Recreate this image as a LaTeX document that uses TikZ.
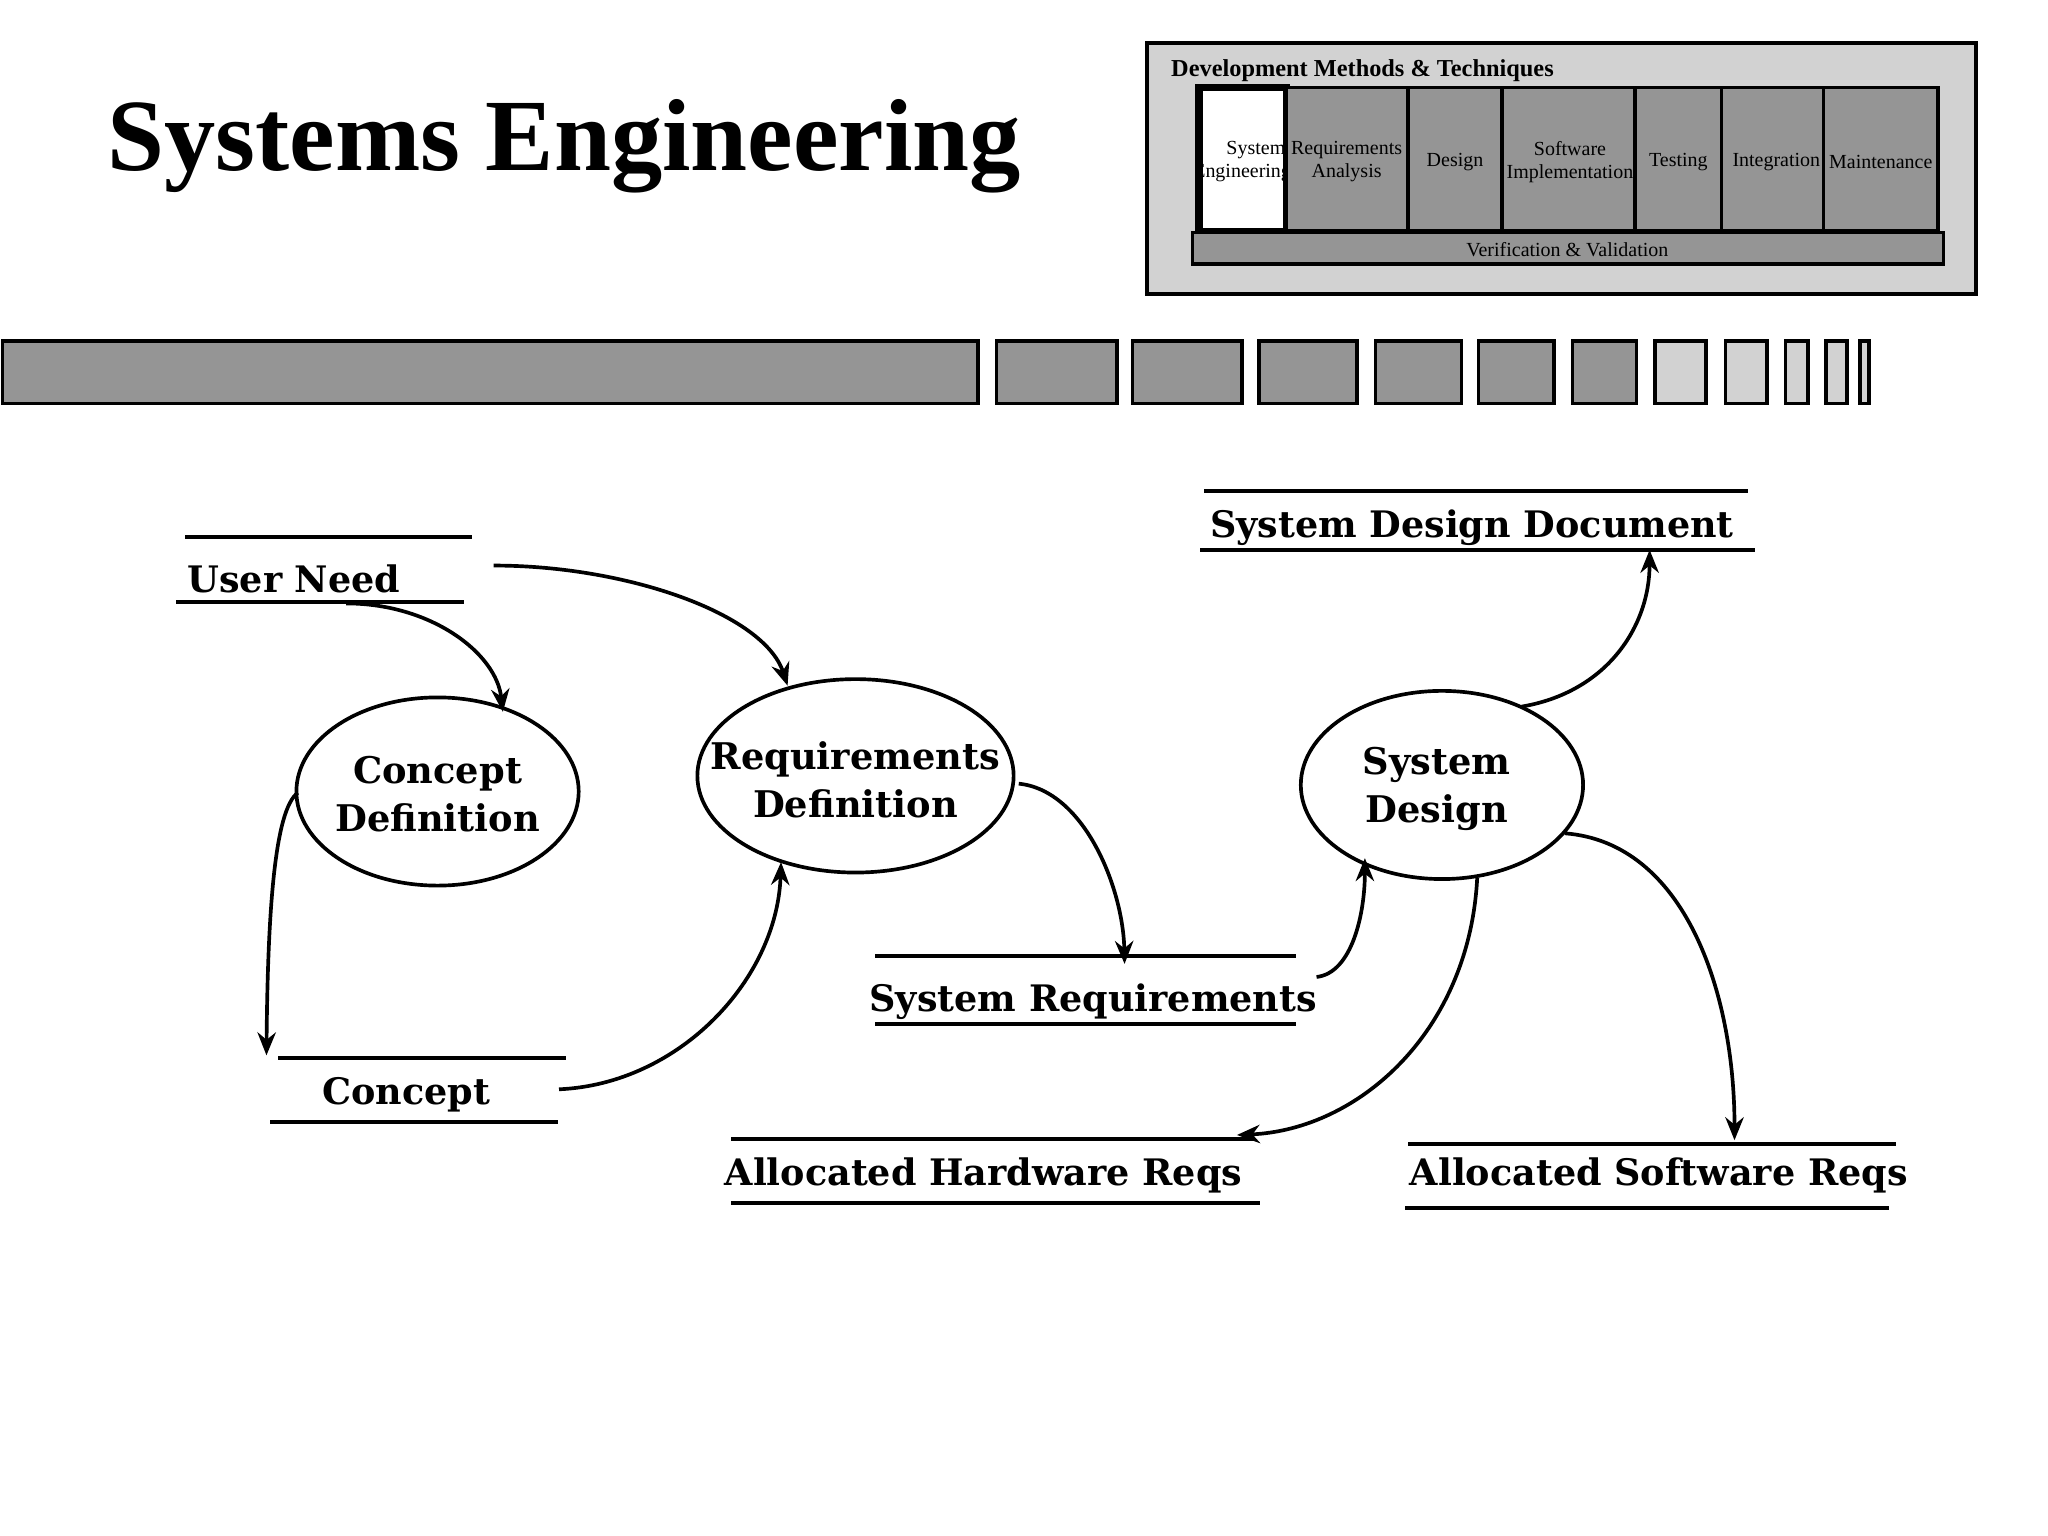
\documentclass[tikz,border=0pt]{standalone}
\usepackage{fontspec}
\setmainfont{Liberation Serif}
\newfontfamily\slab{DejaVu Serif}
\usetikzlibrary{arrows.meta,shapes.geometric}
\definecolor{boxgray}{HTML}{959595}
\definecolor{lightgray}{HTML}{D2D2D2}
\tikzset{
  proc/.style={ellipse,draw,thick,inner sep=0pt},
  ptxt/.style={font=\slab\bfseries\fontsize{8}{10.3}\selectfont,align=center,inner sep=0pt},
  lbl/.style={font=\slab\bfseries\fontsize{7.95}{9}\selectfont},
  flow/.style={thick,-{Stealth[length=5pt,width=4pt]}},
  cell/.style={draw,thick,fill=boxgray},
  small/.style={font=\fontsize{4.35}{5}\selectfont,align=center,inner sep=0pt},
}
\begin{document}
\begin{tikzpicture}[x=0.01cm,y=-0.01cm]
\useasboundingbox (0,0) rectangle (1568,1176);
% title
\node[font=\bfseries\fontsize{22.3}{26}\selectfont] (title) at (432,112) {Systems Engineering};
% methods box
\draw[thick,fill=lightgray] (878,33) rectangle (1513,225);
\node[anchor=west,font=\bfseries\fontsize{5.3}{6}\selectfont,inner sep=0pt] (hdr) at (896,54) {Development Methods \& Techniques};
\draw[line width=1.6pt,fill=white] (918,67) rectangle (985,177);
\foreach \a/\b in {985/1078,1078/1150,1150/1252,1252/1318,1318/1396,1396/1484}
  \draw[cell] (\a,67) rectangle (\b,177);
\draw[cell] (913,178) rectangle (1488,202);
\begin{scope}
\clip (919,68) rectangle (984,176);
\node[small] (c1) at (951,124) {\hspace*{6pt}System\\Engineering};
\end{scope}
\node[small] (c2) at (1031,124) {Requirements\\Analysis};
\node[small] (c3) at (1114,124) {Design};
\node[small] (c4) at (1202,124) {Software\\Implementation};
\node[small] (c5) at (1285,124) {Testing};
\node[small] (c6) at (1360,124) {Integration};
\node[small] (c7) at (1440,124) {Maintenance};
\node[small] (vv) at (1200,191) {Verification \& Validation};
% strip
\foreach \a/\b in {2/749,763/855,867/951,964/1039,1053/1119,1132/1190,1204/1253}
  \draw[cell] (\a,261) rectangle (\b,309);
\foreach \a/\b in {1267/1306,1321/1353,1367/1384,1398/1414,1424/1431}
  \draw[thick,fill=lightgray] (\a,261) rectangle (\b,309);
% processes
\node[proc,minimum width=2.16cm,minimum height=1.44cm] (cd) at (335,606) {};
\node[ptxt] (cdt) at (335,608) {Concept\\Definition};
\node[proc,minimum width=2.42cm,minimum height=1.48cm] (rd) at (655,594) {};
\node[ptxt] (rdt) at (655,597) {Requirements\\Definition};
\node[proc,minimum width=2.16cm,minimum height=1.44cm] (sd) at (1104,601) {};
\node[ptxt] (sdt) at (1100,604) {System\\Design};
% stores
\node[lbl] (un) at (225,443) {User Need};
\draw[thick] (142,411) -- (361,411) (135,461) -- (355,461);
\node[lbl] (co) at (311,838) {Concept};
\draw[thick] (213,810) -- (433,810) (207,859) -- (427,859);
\node[lbl] (sr) at (837,767) {System Requirements};
\draw[thick] (670,732) -- (992,732) (670,784) -- (992,784);
\node[lbl] (sdd) at (1127,404) {System Design Document};
\draw[thick] (922,376) -- (1338,376) (919,421) -- (1344,421);
\node[lbl] (hw) at (753,900) {Allocated Hardware Reqs};
\draw[thick] (560,872) -- (960,872) (560,921) -- (965,921);
\node[lbl] (sw) at (1270,900) {Allocated Software Reqs};
\draw[thick] (1078,876) -- (1452,876) (1076,925) -- (1446,925);
% connector ends
\coordinate (un1) at (265,462);
\coordinate (un2) at (378,433);
\coordinate (cd1) at (385,545);
\coordinate (cd2) at (228,607);
\coordinate (rd1) at (603,525);
\coordinate (rd2) at (598,660);
\coordinate (rd3) at (780,600);
\coordinate (co1) at (204,808);
\coordinate (co2) at (428,834);
\coordinate (sr1) at (861,738);
\coordinate (sr2) at (1008,748);
\coordinate (sd1) at (1045,657);
\coordinate (sd2) at (1165,541);
\coordinate (sd3) at (1131,672);
\coordinate (sd4) at (1198,638);
\coordinate (sdd1) at (1263,421);
\coordinate (hw1) at (947,869);
\coordinate (sw1) at (1328,873);
% flows
\draw[flow] (un1) .. controls (330,462) and (380,500) .. (cd1);
\draw[flow] (un2) .. controls (480,433) and (585,470) .. (rd1);
\draw[flow] (cd2) .. controls (210,620) and (205,700) .. (co1);
\draw[flow] (co2) .. controls (520,830) and (595,750) .. (rd2);
\draw[flow] (rd3) .. controls (830,605) and (860,680) .. (sr1);
\draw[flow] (sr2) .. controls (1035,745) and (1045,700) .. (sd1);
\draw[flow] (sd2) .. controls (1230,530) and (1263,480) .. (sdd1);
\draw[flow] (sd3) .. controls (1125,790) and (1040,865) .. (hw1);
\draw[flow] (sd4) .. controls (1290,645) and (1328,760) .. (sw1);
\end{tikzpicture}
\end{document}
